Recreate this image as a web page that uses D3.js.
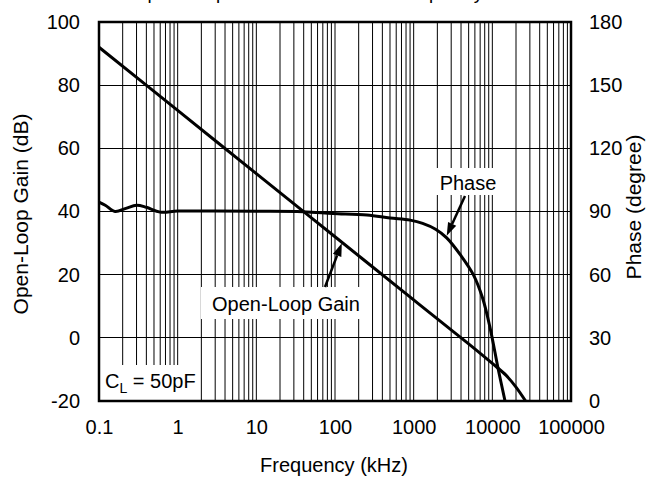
<!DOCTYPE html>
<html>
<head>
<meta charset="utf-8">
<script src="https://cdn.jsdelivr.net/npm/d3@7"></script>
<style>
  body { margin: 0; background: #fff; }
  text { font-family: "Liberation Sans", Arial, sans-serif; fill: #000; }
</style>
</head>
<body>
<div id="chart"></div>
<script>
// data
var gainFreq = [0.1, 1, 10, 100, 1000, 5000, 10000, 15000, 20000, 26500];
var gainDb = [92, 72, 52, 32, 12, -1.9, -8.1, -11.9, -15.6, -20];

var phaseFreq = [0.1, 0.12, 0.16, 0.22, 0.3, 0.4, 0.6, 1, 3, 10, 39, 94, 255, 500, 900, 1300, 1900, 2630, 4000, 5730, 7500, 9330, 11900, 14500];
var phaseDeg = [94.5, 93, 90, 91.5, 93, 92, 89.7, 90.2, 90.2, 90.1, 89.9, 89.1, 88.3, 86.9, 85.9, 84.4, 81.6, 77.5, 69, 60, 49, 35, 15, 0];

var xTicks = [0.1, 1, 10, 100, 1000, 10000, 100000];
var xTickLabels = ["0.1", "1", "10", "100", "1000", "10000", "100000"];
var gainTicks = [-20, 0, 20, 40, 60, 80, 100];
var gainTickLabels = ["-20", "0", "20", "40", "60", "80", "100"];
var phaseTicks = [0, 30, 60, 90, 120, 150, 180];

var width = 647;
var height = 481;

// plot area (note: "top" is taken by window.top, so prefix everything)
var plotLeft = 99, plotRight = 571, plotTop = 22, plotBottom = 401;

var svg = d3.select("#chart").append("svg")
  .attr("width", width).attr("height", height);

var x = d3.scaleLog().domain([0.1, 100000]).range([plotLeft, plotRight]);
var yGain = d3.scaleLinear().domain([-20, 100]).range([plotBottom, plotTop]);
var yPhase = d3.scaleLinear().domain([0, 180]).range([plotBottom, plotTop]);

// title, mostly cut off at the top edge
svg.append("text").attr("x", 133).attr("y", -1)
  .style("font-size", "18.7px")
  .text("Open-Loop Gain and Phase vs Frequency");

// vertical grid: every 1..9 of each decade
var gridFreq = [];
for (var k = -1; k < 5; k++) {
  for (var m = 1; m < 10; m++) {
    gridFreq.push(m * Math.pow(10, k));
  }
}
svg.append("g").selectAll("line").data(gridFreq).enter().append("line")
  .attr("x1", function(d) { return x(d); })
  .attr("x2", function(d) { return x(d); })
  .attr("y1", plotTop).attr("y2", plotBottom)
  .attr("stroke", "#000").attr("stroke-width", 1);

// horizontal grid
svg.append("g").selectAll("line").data(gainTicks).enter().append("line")
  .attr("x1", plotLeft).attr("x2", plotRight)
  .attr("y1", function(d) { return yGain(d); })
  .attr("y2", function(d) { return yGain(d); })
  .attr("stroke", "#000").attr("stroke-width", 1)
  .attr("shape-rendering", "crispEdges");

// axes (labels only)
var xAxis = svg.append("g").attr("transform", "translate(0," + plotBottom + ")")
  .call(d3.axisBottom(x).tickValues(xTicks)
    .tickFormat(function(d, i) { return xTickLabels[i]; }).tickSize(0).tickPadding(19));
var yAxisL = svg.append("g").attr("transform", "translate(" + plotLeft + ",0)")
  .call(d3.axisLeft(yGain).tickValues(gainTicks)
    .tickFormat(function(d, i) { return gainTickLabels[i]; }).tickSize(0).tickPadding(19));
var yAxisR = svg.append("g").attr("transform", "translate(" + plotRight + ",0)")
  .call(d3.axisRight(yPhase).tickValues(phaseTicks).tickSize(0).tickPadding(18));
[xAxis, yAxisL, yAxisR].forEach(function(a) {
  a.select(".domain").remove();
  a.selectAll("text").style("font-size", "20px").style("font-family", "Liberation Sans, Arial, sans-serif");
});

// curves
var gainLine = d3.line()
  .x(function(d, i) { return x(gainFreq[i]); })
  .y(function(d) { return yGain(d); })
  .curve(d3.curveCatmullRom.alpha(0.5));
var phaseLine = d3.line()
  .x(function(d, i) { return x(phaseFreq[i]); })
  .y(function(d) { return yPhase(d); })
  .curve(d3.curveCatmullRom.alpha(0.5));

svg.append("path").attr("d", gainLine(gainDb))
  .attr("fill", "none").attr("stroke", "#000").attr("stroke-width", 3);
svg.append("path").attr("d", phaseLine(phaseDeg))
  .attr("fill", "none").attr("stroke", "#000").attr("stroke-width", 3);

// labels with white boxes
function boxLabel(bx, by, bw, bh) {
  svg.append("rect").attr("x", bx).attr("y", by).attr("width", bw).attr("height", bh)
    .attr("fill", "#fff");
}
boxLabel(435, 168, 65, 27);
svg.append("text").attr("x", 468).attr("y", 190).attr("text-anchor", "middle")
  .style("font-size", "20px").text("Phase");

boxLabel(201, 287, 170, 32);
svg.append("text").attr("x", 286).attr("y", 311).attr("text-anchor", "middle")
  .style("font-size", "20px").text("Open-Loop Gain");

boxLabel(101, 365, 98, 35);
var cl = svg.append("text").attr("x", 105).attr("y", 388).style("font-size", "20px");
cl.append("tspan").text("C");
cl.append("tspan").attr("dy", 5).style("font-size", "14px").text("L");
cl.append("tspan").attr("dy", -5).text(" = 50pF");

// arrows pointing at the curves
function arrow(x1, y1, x2, y2) {
  var ang = Math.atan2(y2 - y1, x2 - x1);
  var len = 13, half = 4.5;
  var bx = x2 - len * Math.cos(ang), by = y2 - len * Math.sin(ang);
  svg.append("line").attr("x1", x1).attr("y1", y1).attr("x2", bx).attr("y2", by)
    .attr("stroke", "#000").attr("stroke-width", 2.5);
  var p = [
    [x2, y2],
    [bx + half * Math.sin(ang), by - half * Math.cos(ang)],
    [bx - half * Math.sin(ang), by + half * Math.cos(ang)]
  ];
  svg.append("polygon").attr("points", p.join(" ")).attr("fill", "#000");
}
arrow(465, 196, x(2630), yPhase(78) - 1);
arrow(325, 287, x(122), yGain(92 - 20 * Math.log10(1220)) + 1);

// plot frame
svg.append("rect").attr("x", plotLeft).attr("y", plotTop)
  .attr("width", plotRight - plotLeft).attr("height", plotBottom - plotTop)
  .attr("fill", "none").attr("stroke", "#000").attr("stroke-width", 2.5);

// axis titles
svg.append("text").attr("text-anchor", "middle")
  .attr("transform", "translate(28,214) rotate(-90)")
  .style("font-size", "21px").text("Open-Loop Gain (dB)");
svg.append("text").attr("text-anchor", "middle")
  .attr("transform", "translate(641,207) rotate(-90)")
  .style("font-size", "21px").text("Phase (degree)");
svg.append("text").attr("text-anchor", "middle")
  .attr("x", 334).attr("y", 472)
  .style("font-size", "20px").text("Frequency (kHz)");
</script>
</body>
</html>
